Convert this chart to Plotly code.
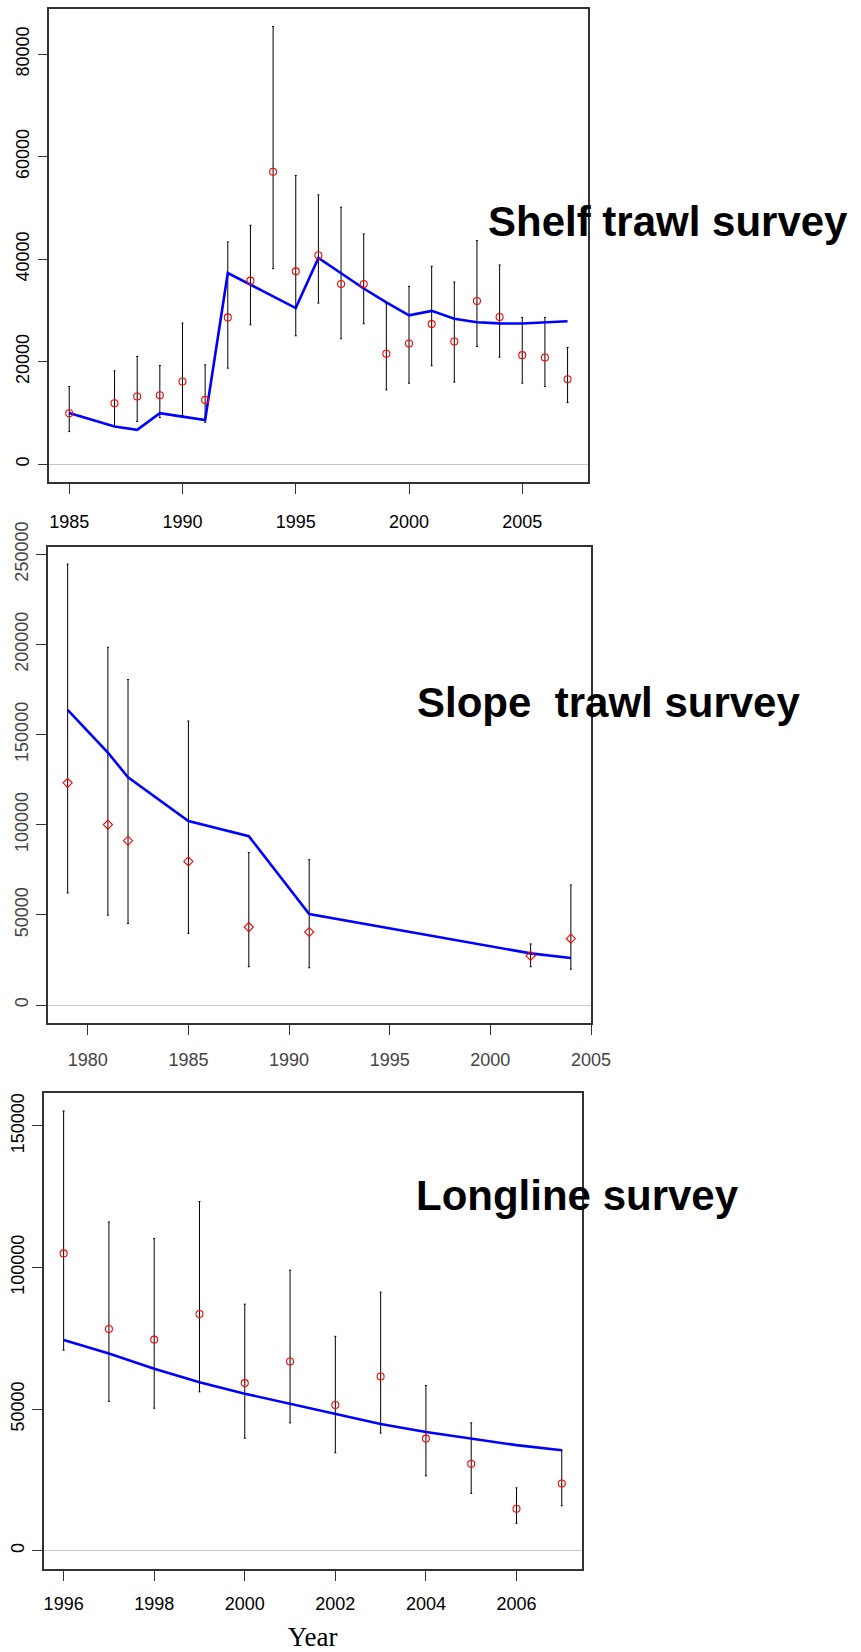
import plotly.graph_objects as go

# ---- Shelf trawl survey -------------------------------------------------
shelf_years = [1985, 1987, 1988, 1989, 1990, 1991, 1992, 1993, 1994, 1995, 1996,
               1997, 1998, 1999, 2000, 2001, 2002, 2003, 2004, 2005, 2006, 2007]
shelf_obs = [9970, 11920, 13220, 13480, 16160, 12570, 28660, 35830, 57070, 37650, 40780,
             35180, 35180, 21560, 23580, 27360, 23970, 31860, 28730, 21300, 20850, 16610]
shelf_lo = [6380, 7360, 8340, 9120, 9510, 8210, 18760, 27230, 38180, 25080, 31460,
            24500, 27430, 14530, 15830, 19220, 16030, 23000, 20910, 15830, 15180, 12050]
shelf_hi = [15180, 18240, 21040, 19280, 27560, 19410, 43390, 46640, 85410, 56350, 52570,
            50160, 44950, 31330, 34720, 38630, 35570, 43650, 38890, 28660, 28660, 22800]
shelf_fit_years = [1985, 1987, 1988, 1989, 1990, 1991, 1992, 1995, 1996, 1997, 1998,
                   1999, 2000, 2001, 2002, 2003, 2004, 2005, 2006, 2007]
shelf_fit = [10000, 7360, 6710, 9970, 9310, 8660, 37330, 30490, 40260, 37300, 34300,
             31600, 29070, 29940, 28380, 27730, 27500, 27460, 27660, 27920]
shelf_xticks = [1985, 1990, 1995, 2000, 2005]
shelf_yticks = [0, 20000, 40000, 60000, 80000]

# ---- Slope trawl survey -------------------------------------------------
slope_years = [1979, 1981, 1982, 1985, 1988, 1991, 2002, 2004]
slope_obs = [123250, 100080, 91120, 79630, 43220, 40500, 27260, 36800]
slope_lo = [62110, 49840, 45170, 39720, 21220, 20640, 21220, 19860]
slope_hi = [244550, 198400, 180490, 157520, 84500, 80610, 33880, 66590]
slope_fit = [163750, 140000, 126360, 102020, 93660, 50430, 28620, 26090]
slope_xticks = [1980, 1985, 1990, 1995, 2000, 2005]
slope_yticks = [0, 50000, 100000, 150000, 200000, 250000]

# ---- Longline survey ----------------------------------------------------
ll_years = [1996, 1997, 1998, 1999, 2000, 2001, 2002, 2003, 2004, 2005, 2006, 2007]
ll_obs = [104980, 78280, 74540, 83570, 59190, 66800, 51460, 61520, 39590, 30690, 14830, 23730]
ll_lo = [70800, 52750, 50300, 56100, 39720, 45140, 34560, 41530, 26440, 20250, 9670, 15860]
ll_hi = [155270, 116070, 110270, 123290, 87050, 99040, 75700, 91310, 58290, 45140, 22180, 35470]
ll_fit = [74410, 69640, 64220, 59450, 55450, 51840, 48100, 44750, 41910, 39590, 37270, 35470]
ll_xticks = [1996, 1998, 2000, 2002, 2004, 2006]
ll_yticks = [0, 50000, 100000, 150000]

W, H = 861, 1652


def hdom(left, right):
    return [left / W, right / W]


def vdom(top, bottom):
    return [1 - bottom / H, 1 - top / H]


panels = [
    dict(sfx="", years=shelf_years, obs=shelf_obs, lo=shelf_lo, hi=shelf_hi,
         fit_x=shelf_fit_years, fit=shelf_fit, xt=shelf_xticks, yt=shelf_yticks,
         xdom=hdom(49.3, 587.5), ydom=vdom(9, 482.3),
         xr=[1984.12, 2007.88], yr=[-3512, 88840], symbol="circle-open",
         label_color="black", xstand=12,
         title="Shelf trawl survey", tx=486, ty=222),
    dict(sfx="2", years=slope_years, obs=slope_obs, lo=slope_lo, hi=slope_hi,
         fit_x=slope_years, fit=slope_fit, xt=slope_xticks, yt=slope_yticks,
         xdom=hdom(47.5, 591), ydom=vdom(546.7, 1023.3),
         xr=[1978, 2005], yr=[-10151, 254215], symbol="diamond-open",
         label_color="#444444", xstand=9,
         title="Slope  trawl survey", tx=415, ty=702),
    dict(sfx="3", years=ll_years, obs=ll_obs, lo=ll_lo, hi=ll_hi,
         fit_x=ll_years, fit=ll_fit, xt=ll_xticks, yt=ll_yticks,
         xdom=hdom(43.7, 581.7), ydom=vdom(1092.7, 1569),
         xr=[1995.56, 2007.44], yr=[-6463, 161726], symbol="circle-open",
         label_color="black", xstand=8,
         title="Longline survey", tx=414, ty=1195),
]

fig = go.Figure()
annotations = []
for p in panels:
    xa, ya = "x" + p["sfx"], "y" + p["sfx"]
    up = [h - o for h, o in zip(p["hi"], p["obs"])]
    down = [o - l for o, l in zip(p["obs"], p["lo"])]
    # interval bars
    fig.add_trace(go.Scatter(
        x=p["years"], y=p["obs"], mode="markers", xaxis=xa, yaxis=ya,
        marker=dict(size=1, color="rgba(0,0,0,0)"),
        error_y=dict(type="data", symmetric=False, array=up, arrayminus=down,
                     color="black", thickness=1, width=1),
        showlegend=False, hoverinfo="skip"))
    # fitted index
    fig.add_trace(go.Scatter(
        x=p["fit_x"], y=p["fit"], mode="lines", xaxis=xa, yaxis=ya,
        line=dict(color="#0000ff", width=2.6), showlegend=False))
    # observed index
    fig.add_trace(go.Scatter(
        x=p["years"], y=p["obs"], mode="markers", xaxis=xa, yaxis=ya,
        marker=dict(symbol=p["symbol"], size=7, color="red", line=dict(color="red", width=1.1)),
        showlegend=False))

    axis_common = dict(showgrid=False, showline=True, mirror=True, linecolor="#333333",
                       linewidth=1.5, ticks="outside", ticklen=10, tickwidth=1.2,
                       tickcolor="#333333", automargin=False,
                       tickfont=dict(family="Liberation Sans", size=18, color=p["label_color"]))
    fig.update_layout({
        "xaxis" + p["sfx"]: dict(domain=p["xdom"], range=p["xr"], anchor=ya,
                                 tickvals=p["xt"], ticktext=[str(v) for v in p["xt"]],
                                 zeroline=False, ticklabelstandoff=p["xstand"], **axis_common),
        "yaxis" + p["sfx"]: dict(domain=p["ydom"], range=p["yr"], anchor=xa,
                                 tickvals=p["yt"], ticktext=[str(v) for v in p["yt"]],
                                 tickangle=-90, zeroline=True, zerolinecolor="#c8c8c8",
                                 zerolinewidth=1.2, ticklabelstandoff=1, **axis_common),
    })
    annotations.append(dict(
        text=p["title"], xref="paper", yref="paper", x=p["tx"] / W, y=1 - p["ty"] / H,
        xanchor="left", yanchor="middle", showarrow=False,
        font=dict(family="Liberation Sans", size=42, color="black", weight="bold")))

fig.update_layout(
    width=W, height=H, margin=dict(l=0, r=0, t=0, b=0, autoexpand=False),
    paper_bgcolor="white", plot_bgcolor="white",
    annotations=annotations,
    xaxis3_title=dict(text="Year", font=dict(family="Liberation Serif", size=27, color="black"),
                      standoff=14),
)

fig.write_html("out.html")
